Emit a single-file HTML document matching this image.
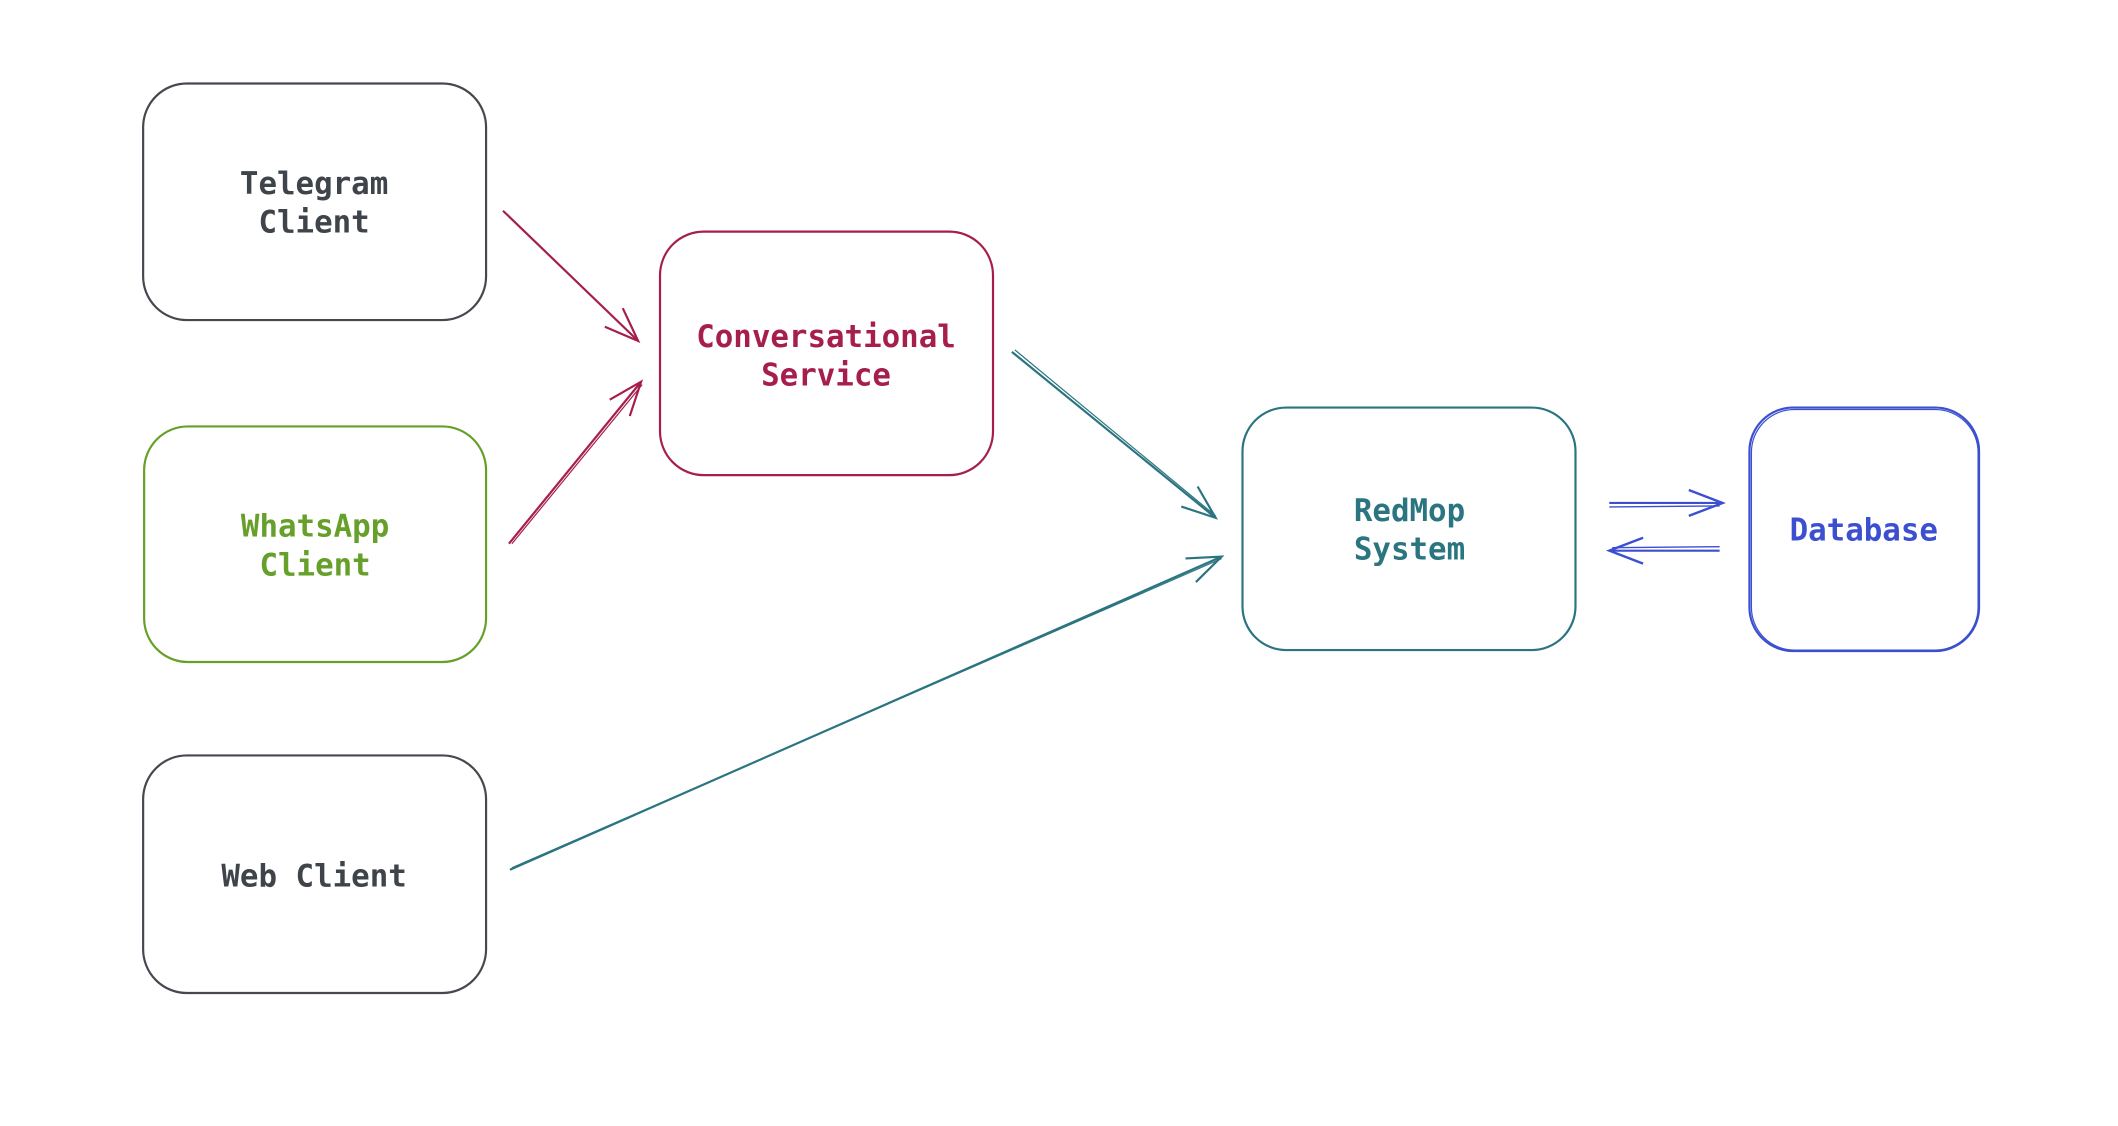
<!DOCTYPE html>
<html><head><meta charset="utf-8"><style>
html,body{margin:0;padding:0;background:#fff;}
svg{display:block}
text{font-family:"DejaVu Sans Mono","Liberation Mono",monospace;font-weight:bold;font-size:31px;text-anchor:middle;}
</style></head><body>
<svg width="2118" height="1126" viewBox="0 0 2118 1126" xmlns="http://www.w3.org/2000/svg">
<defs>
<marker id="mr" markerUnits="userSpaceOnUse" markerWidth="60" markerHeight="60" refX="0" refY="0" viewBox="-40 -30 50 60" orient="auto"><path d="M-34,-13 L0,0 L-34,13" fill="none" stroke="#a61e4d" stroke-width="2.2"/></marker>
<marker id="mt" markerUnits="userSpaceOnUse" markerWidth="60" markerHeight="60" refX="0" refY="0" viewBox="-40 -30 50 60" orient="auto"><path d="M-34,-13 L0,0 L-34,13" fill="none" stroke="#2b7580" stroke-width="2.2"/></marker>
<marker id="mb" markerUnits="userSpaceOnUse" markerWidth="60" markerHeight="60" refX="0" refY="0" viewBox="-40 -30 50 60" orient="auto"><path d="M-34,-13 L0,0 L-34,13" fill="none" stroke="#3b4fd0" stroke-width="2.4"/></marker>
</defs>
<g transform="scale(0.994)">
<g fill="none" stroke-width="2.2">
<rect x="144" y="84" width="345" height="238" rx="44" stroke="#45494f"/>
<rect x="145" y="429" width="344" height="237" rx="44" stroke="#66a02a"/>
<rect x="144" y="760" width="345" height="239" rx="44" stroke="#45494f"/>
<rect x="664" y="233" width="335" height="245" rx="44" stroke="#a61e4d"/>
<rect x="1250" y="410" width="335" height="244" rx="44" stroke="#2b7580"/>
<rect x="1760" y="410" width="231" height="245" rx="44" stroke="#3b4fd0"/>
<rect x="1762" y="412" width="228" height="242" rx="43" stroke="#3b4fd0" stroke-width="1.2"/>

<line x1="506" y1="212" x2="642" y2="343" stroke="#a61e4d" marker-end="url(#mr)"/>
<line x1="512" y1="547" x2="645" y2="384" stroke="#a61e4d" marker-end="url(#mr)"/>
<line x1="515" y1="547" x2="646" y2="387" stroke="#a61e4d" stroke-width="1.2"/>
<line x1="1018" y1="354" x2="1223" y2="521" stroke="#2b7580" marker-end="url(#mt)"/>
<line x1="1021" y1="352" x2="1223" y2="519" stroke="#2b7580" stroke-width="1.2"/>
<line x1="513" y1="875" x2="1229" y2="560" stroke="#2b7580" marker-end="url(#mt)"/>
<line x1="515" y1="873" x2="1229" y2="562" stroke="#2b7580" stroke-width="1.2"/>
<line x1="1619" y1="506" x2="1733" y2="506" stroke="#3b4fd0" marker-end="url(#mb)"/>
<line x1="1619" y1="510" x2="1730" y2="509" stroke="#3b4fd0" stroke-width="1.4"/>
<line x1="1730" y1="554" x2="1619" y2="554" stroke="#3b4fd0" marker-end="url(#mb)"/>
<line x1="1730" y1="550" x2="1622" y2="551" stroke="#3b4fd0" stroke-width="1.4"/>
</g>
<g>
<text x="316" y="195" fill="#3f444b">Telegram</text>
<text x="316" y="234" fill="#3f444b">Client</text>
<text x="317" y="540" fill="#66a02a">WhatsApp</text>
<text x="317" y="579" fill="#66a02a">Client</text>
<text x="316" y="892" fill="#3f444b">Web Client</text>
<text x="831" y="349" fill="#a61e4d">Conversational</text>
<text x="831" y="388" fill="#a61e4d">Service</text>
<text x="1418" y="524" fill="#2b7580">RedMop</text>
<text x="1418" y="563" fill="#2b7580">System</text>
<text x="1875" y="544" fill="#3b4fd0">Database</text>
</g>
</g>
</svg>
</body></html>
